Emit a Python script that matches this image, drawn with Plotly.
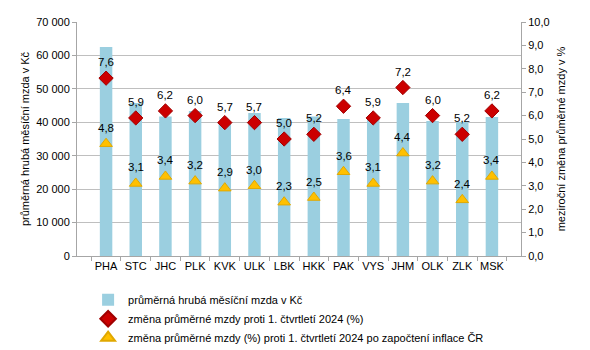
import plotly.graph_objects as go

categories = ["PHA", "STC", "JHC", "PLK", "KVK", "ULK", "LBK", "HKK", "PAK", "VYS", "JHM", "OLK", "ZLK", "MSK"]
wage = [62500, 45800, 41700, 43400, 39800, 42800, 41300, 41700, 41000, 41900, 45800, 40400, 40100, 41600]
change_nominal = [7.6, 5.9, 6.2, 6.0, 5.7, 5.7, 5.0, 5.2, 6.4, 5.9, 7.2, 6.0, 5.2, 6.2]
change_real = [4.8, 3.1, 3.4, 3.2, 2.9, 3.0, 2.3, 2.5, 3.6, 3.1, 4.4, 3.2, 2.4, 3.4]

FONT = "Liberation Sans, Arial, sans-serif"

fig = go.Figure()
fig.add_trace(go.Bar(
    x=categories, y=wage, name="průměrná hrubá měsíční mzda v Kč",
    marker=dict(color="#9BCFE0", line=dict(width=0)), yaxis="y",
))
fig.add_trace(go.Scatter(
    x=categories, y=change_nominal, mode="markers", yaxis="y2",
    name="změna průměrné mzdy proti 1. čtvrtletí 2024 (%)",
    marker=dict(symbol="diamond", size=11, color="#CC0000", line=dict(color="#A00000", width=1)),
))
fig.add_trace(go.Scatter(
    x=categories, y=change_real, mode="markers", yaxis="y2",
    name="změna průměrné mzdy (%) proti 1. čtvrtletí 2024 po započtení inflace ČR",
    marker=dict(symbol="triangle-up", size=11, color="#FFC000", line=dict(color="#E0A800", width=1)),
))

annotations = []
for series in (change_nominal, change_real):
    for c, v in zip(categories, series):
        annotations.append(dict(
            x=c, y=v, xref="x", yref="y2", text=f"{v:.1f}".replace(".", ","),
            showarrow=False, yshift=16, font=dict(family=FONT, size=11.5, color="#000000"),
        ))

fig.update_layout(
    width=590, height=350,
    margin=dict(l=77, r=69, t=22, b=94, autoexpand=False),
    paper_bgcolor="white", plot_bgcolor="white",
    separators=", ",
    font=dict(family=FONT, size=11, color="#000000"),
    bargap=0.58,
    showlegend=True,
    legend=dict(
        x=0.025, y=-0.125, xanchor="left", yanchor="top",
        font=dict(family=FONT, size=11, color="#000000"),
        itemwidth=30, itemsizing="constant", tracegroupgap=0, bgcolor="rgba(0,0,0,0)",
    ),
    annotations=annotations,
    xaxis=dict(
        type="category", showgrid=False, showline=True, linecolor="#A6A6A6", linewidth=1,
        ticks="outside", tickson="boundaries", ticklen=4, tickcolor="#A6A6A6",
        tickangle=0, automargin=False,
        tickfont=dict(family=FONT, size=11),
    ),
    yaxis=dict(
        range=[0, 70000], dtick=10000, tickformat=",d",
        showgrid=True, gridcolor="#BFBFBF", gridwidth=1,
        showline=True, linecolor="#A6A6A6", linewidth=1,
        ticks="outside", ticklen=4, tickcolor="#A6A6A6",
        title=dict(text="průměrná hrubá měsíční mzda v Kč", font=dict(family=FONT, size=11), standoff=4),
        tickfont=dict(family=FONT, size=11), zeroline=False, automargin=False,
    ),
    yaxis2=dict(
        range=[0, 10], dtick=1, tickformat=".1f", overlaying="y", side="right",
        showgrid=False, showline=True, linecolor="#A6A6A6", linewidth=1,
        ticks="outside", ticklen=4, tickcolor="#A6A6A6",
        title=dict(text="meziroční změna průměrné mzdy v %", font=dict(family=FONT, size=11), standoff=8),
        tickfont=dict(family=FONT, size=11), zeroline=False, automargin=False,
    ),
)

fig.write_html("out.html")
